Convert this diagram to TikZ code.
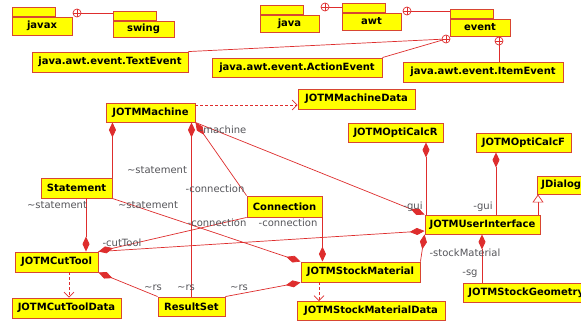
\documentclass[tikz,border=0pt]{standalone}
\usepackage{fontspec}
\setmainfont{DejaVu Sans}
\usetikzlibrary{arrows.meta}
\definecolor{clsfill}{RGB}{255,255,0}
\definecolor{clsline}{RGB}{215,70,50}
\definecolor{wirec}{RGB}{222,45,45}
\definecolor{lblc}{RGB}{85,85,90}

\begin{document}
\begin{tikzpicture}[x=1pt,y=-1pt,
  cls/.style={draw=clsline, fill=clsfill, line width=0.9pt, inner sep=0pt,
    font=\fontsize{10}{12}\selectfont\bfseries, text=black},
  tabbox/.style={draw=clsline, fill=clsfill, line width=0.9pt, inner sep=0pt,
    minimum width=43, minimum height=9},
  wire/.style={draw=wirec, line width=0.7pt},
  comp/.style={wire, -{Diamond[length=15pt,width=7pt,fill=wirec]}},
  dep/.style={wire, dash pattern=on 3pt off 2pt, -{Straight Barb[length=5pt,width=10pt]}},
  gen/.style={wire, -{Triangle[open,length=8pt,width=11pt,fill=white]}},
  pkgc/.style={circle, draw=wirec, fill=white, line width=0.7pt, minimum size=8pt, inner sep=0pt,
    path picture={\draw[wirec, line width=0.6pt]
      (path picture bounding box.north) -- (path picture bounding box.south)
      (path picture bounding box.west) -- (path picture bounding box.east);}},
  lab/.style={font=\fontsize{10}{12}\selectfont, text=lblc, inner sep=0pt}
]
\fill[white] (0,0) rectangle (581,321);
\useasboundingbox (0,0) rectangle (581,321);

% ---------- packages ----------
\node[cls, minimum width=60, minimum height=18] (javax) at (42,26) {javax};
\node[tabbox, anchor=south west] (javaxtab) at (javax.north west) {};
\node[cls, minimum width=61, minimum height=16] (swing) at (143.5,29) {swing};
\node[tabbox, anchor=south west] (swingtab) at (swing.north west) {};
\node[cls, minimum width=59, minimum height=17] (java) at (289.5,23.5) {java};
\node[tabbox, anchor=south west] (javatab) at (java.north west) {};
\node[cls, minimum width=59, minimum height=17] (awt) at (371.5,21.5) {awt};
\node[tabbox, anchor=south west] (awttab) at (awt.north west) {};
\node[cls, minimum width=60, minimum height=17] (event) at (480,27.5) {event};
\node[tabbox, anchor=south west] (eventtab) at (event.north west) {};

% ---------- event classes ----------
\node[cls, minimum width=156, minimum height=20] (textev) at (110,62) {java.awt.event.TextEvent};
\node[cls, minimum width=170, minimum height=19] (actionev) at (297,67.5) {java.awt.event.ActionEvent};
\node[cls, minimum width=160, minimum height=20] (itemev) at (483,72) {java.awt.event.ItemEvent};

% ---------- containment ----------
\node[pkgc] (c1) at (77,13) {};
\node[pkgc] (c2) at (325,7) {};
\node[pkgc] (c3) at (407,11) {};
\node[pkgc] (c4) at (446,39) {};
\node[pkgc] (c5) at (499,41) {};
\draw[wire] (c1.east) -- (swingtab.west |- c1.east);
\draw[wire] (c2.east) -- (awttab.west |- c2.east);
\draw[wire] (c3.east) -- (eventtab.west |- c3.east);
\draw[wire] (c4) -- (textev.north east);
\draw[wire] (c4) -- (actionev.north east);
\draw[wire] (c5.south) -- (itemev.north -| c5.south);

% ---------- main classes ----------
\node[cls, minimum width=89, minimum height=19] (mach) at (150.5,112.5) {JOTMMachine};
\node[cls, minimum width=117, minimum height=20] (machdata) at (356.5,99) {JOTMMachineData};
\node[cls, minimum width=95, minimum height=19] (optr) at (395.5,132.5) {JOTMOptiCalcR};
\node[cls, minimum width=95, minimum height=19] (optf) at (523.5,142.5) {JOTMOptiCalcF};
\node[cls, inner xsep=4pt, minimum height=18, anchor=west] (jdialog) at (537,185) {JDialog};
\node[cls, minimum width=115, minimum height=19] (ui) at (482.5,224.5) {JOTMUserInterface};
\node[cls, minimum width=71, minimum height=20] (stmt) at (76.5,188) {Statement};
\node[cls, minimum width=75, minimum height=21] (conn) at (284.5,206.5) {Connection};
\node[cls, minimum width=83, minimum height=20] (cut) at (56.5,262) {JOTMCutTool};
\node[cls, minimum width=109, minimum height=20] (cutdata) at (66.5,308) {JOTMCutToolData};
\node[cls, minimum width=67, minimum height=19] (rs) at (191.5,306.5) {ResultSet};
\node[cls, minimum width=119, minimum height=20] (stock) at (360.5,272) {JOTMStockMaterial};
\node[cls, minimum width=148, minimum height=19] (stockdata) at (371,311) {JOTMStockMaterialData};
\node[cls, inner xsep=5pt, minimum height=19, anchor=west] (geom) at (463,292.5) {JOTMStockGeometry};

% ---------- dependencies and generalization ----------
\draw[dep] (mach.east |- 0,105) -- (machdata.west |- 0,105);
\draw[dep] (cut.south -| 69,0) -- (cutdata.north -| 69,0);
\draw[dep] (stock.south -| 319,0) -- (stockdata.north -| 319,0);
\draw[gen] (ui.north -| 538,0) -- (jdialog.south -| 538,0);

% ---------- compositions ----------
\draw[comp] (ui.north -| 426,0) -- (optr.south -| 426,0);
\draw[comp] (ui.north -| 496,0) -- (optf.south -| 496,0);
\draw[comp] (mach.south east) -- (ui.north west);
\draw[comp] (cut.north east) -- (ui.west |- 0,231);
\draw[comp] (conn.south west) -- (cut.north east);
\draw[comp] (conn.north west) -- (mach.south east);
\draw[comp] (conn.south east) -- (conn.south east |- stock.north);
\draw[comp] (stmt.south -| 86,0) -- (cut.north -| 86,0);
\draw[comp] (stmt.north east) -- (stmt.north east |- mach.south);
\draw[comp] (stmt.south east) -- (stock.north west);
\draw[comp] (rs.north west) -- (cut.south east);
\draw[comp] (rs.north east) -- (stock.south west);
\draw[comp, line width=1.1pt] (rs.north) -- (rs.north |- mach.south);
\draw[comp] (stock.north east) -- (ui.south west);
\draw[comp] (geom.north -| 482,0) -- (ui.south -| 482,0);

% ---------- role labels ----------
\node[lab] (lmachine) at (223,130) {-machine};
\node[lab] (lstmt1) at (157,170) {\textasciitilde statement};
\node[lab] (lconn1) at (215,189) {-connection};
\node[lab] (lstmt2) at (57,205) {\textasciitilde statement};
\node[lab] (lstmt3) at (148,205) {\textasciitilde statement};
\node[lab] (lconn2) at (217,223) {-connection};
\node[lab] (lconn3) at (288,223) {-connection};
\node[lab] (lcut) at (122,243) {-cutTool};
\node[lab] (lrs1) at (153,288) {\textasciitilde rs};
\node[lab] (lrs2) at (186,288) {\textasciitilde rs};
\node[lab] (lrs3) at (239,288) {\textasciitilde rs};
\node[lab] (lgui1) at (413,207) {-gui};
\node[lab] (lgui2) at (483,207) {-gui};
\node[lab] (lstock) at (465,253) {-stockMaterial};
\node[lab] (lsg) at (470,274) {-sg};
\end{tikzpicture}
\end{document}
